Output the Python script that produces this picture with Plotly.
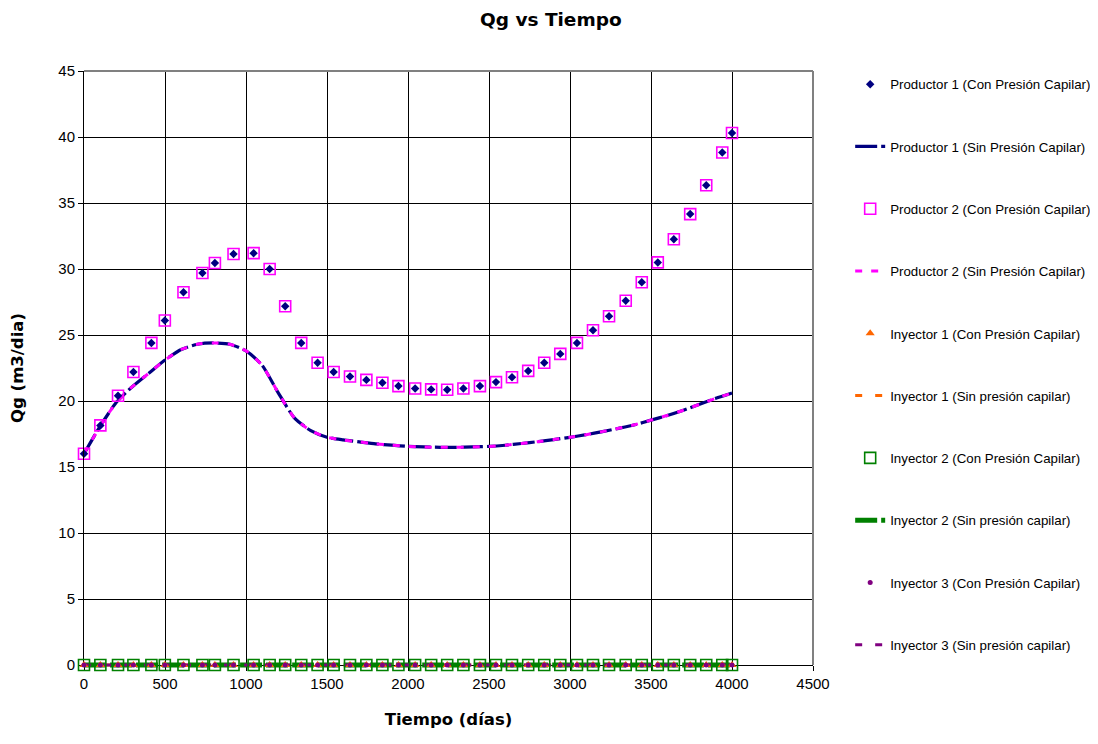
import plotly.graph_objects as go

# ---- data ----
t_points = [0, 101, 210, 305, 416, 499, 614, 731, 808, 923, 1047, 1146, 1242, 1341,
            1442, 1541, 1642, 1743, 1842, 1941, 2044, 2143, 2242, 2342, 2444, 2543,
            2642, 2742, 2841, 2940, 3043, 3142, 3241, 3344, 3443, 3542, 3641, 3742,
            3841, 3940, 4000]
prod1_con = [16.0, 18.15, 20.4, 22.2, 24.4, 26.1, 28.24, 29.7, 30.45, 31.14, 31.2,
             30.0, 27.18, 24.4, 22.9, 22.2, 21.86, 21.6, 21.38, 21.13, 20.95, 20.88,
             20.85, 20.95, 21.13, 21.43, 21.8, 22.28, 22.9, 23.57, 24.4, 25.36, 26.42,
             27.6, 29.0, 30.5, 32.25, 34.16, 36.35, 38.83, 40.3]
prod2_con = [16.0, 18.15, 20.4, 22.2, 24.4, 26.1, 28.24, 29.7, 30.45, 31.14, 31.2,
             30.0, 27.18, 24.4, 22.9, 22.2, 21.86, 21.6, 21.38, 21.13, 20.95, 20.88,
             20.85, 20.95, 21.13, 21.43, 21.8, 22.28, 22.9, 23.57, 24.4, 25.36, 26.42,
             27.6, 29.0, 30.5, 32.25, 34.16, 36.35, 38.83, 40.3]
iny1_con = [0.0] * len(t_points)
iny2_con = [0.0] * len(t_points)
iny3_con = [0.0] * len(t_points)

t_line = [0, 100, 200, 300, 400, 500, 600, 700, 800, 900, 1000, 1100, 1200, 1300,
          1400, 1500, 1600, 1700, 1800, 1900, 2000, 2100, 2200, 2300, 2400, 2500,
          2600, 2700, 2800, 2900, 3000, 3100, 3200, 3300, 3400, 3500, 3600, 3700,
          3800, 3900, 4000]
prod1_sin = [16.0, 18.1, 19.9, 21.1, 22.1, 23.1, 23.9, 24.3, 24.4, 24.3, 23.8, 22.7,
             20.6, 18.7, 17.75, 17.25, 17.05, 16.9, 16.75, 16.65, 16.56, 16.52, 16.49,
             16.49, 16.52, 16.56, 16.65, 16.78, 16.92, 17.08, 17.25, 17.45, 17.68,
             17.93, 18.2, 18.55, 18.9, 19.3, 19.75, 20.2, 20.6]
prod2_sin = list(prod1_sin)
iny1_sin = [0.0] * len(t_line)
iny2_sin = [0.0] * len(t_line)
iny3_sin = [0.0] * len(t_line)

x_ticks = [0, 500, 1000, 1500, 2000, 2500, 3000, 3500, 4000, 4500]
y_ticks = [0, 5, 10, 15, 20, 25, 30, 35, 40, 45]

NAVY = "#000080"
MAGENTA = "#FF00FF"
ORANGE = "#FF6600"
GREEN = "#008000"
PURPLE = "#800080"

X_MAX, Y_MAX = 4500, 45
D = 0.01                        # small extra domain below the main plot so the 0-lines are not clipped
Y2_MIN = -Y_MAX * D / (1 - D)   # keeps value 0 on the same pixel in both subplots

fig = go.Figure()

def add_line(name, x, y, color, width, dash, rank, axes=("x", "y")):
    fig.add_trace(go.Scatter(x=x, y=y, mode="lines", name=name, legendgroup=name,
                             legendrank=rank, cliponaxis=False, xaxis=axes[0], yaxis=axes[1],
                             line=dict(color=color, width=width, dash=dash,
                                       shape="spline", smoothing=0.6)))

def add_markers(name, x, y, symbol, color, size, rank, lw=0, lc=None, axes=("x", "y")):
    fig.add_trace(go.Scatter(x=x, y=y, mode="markers", name=name, legendgroup=name,
                             legendrank=rank, cliponaxis=False, xaxis=axes[0], yaxis=axes[1],
                             marker=dict(symbol=symbol, color=color, size=size,
                                         line=dict(width=lw, color=lc or color))))

Z = ("x2", "y2")
add_line("Productor 1 (Sin Presión Capilar)", t_line, prod1_sin, NAVY, 3.2, "22px,4px", 2)
add_line("Productor 2 (Sin Presión Capilar)", t_line, prod2_sin, MAGENTA, 3, "7px,9px", 4)
add_markers("Productor 1 (Con Presión Capilar)", t_points, prod1_con, "diamond", NAVY, 6.5, 1)
add_markers("Productor 2 (Con Presión Capilar)", t_points, prod2_con, "square-open", MAGENTA, 11, 3, lw=1.6)

add_line("Inyector 1 (Sin presión capilar)", t_line, iny1_sin, ORANGE, 3, "7px,13px", 6, axes=Z)
add_line("Inyector 2 (Sin presión capilar)", t_line, iny2_sin, GREEN, 5, "22px,4px", 8, axes=Z)
add_line("Inyector 3 (Sin presión capilar)", t_line, iny3_sin, PURPLE, 3, "7px,13px", 10, axes=Z)
add_markers("Inyector 1 (Con Presión Capilar)", t_points, iny1_con, "triangle-up", ORANGE, 8, 5, axes=Z)
add_markers("Inyector 2 (Con Presión Capilar)", t_points, iny2_con, "square-open", GREEN, 11, 7, lw=1.6, axes=Z)
add_markers("Inyector 3 (Con Presión Capilar)", t_points, iny3_con, "circle", PURPLE, 5, 9, axes=Z)

fig.update_layout(
    width=1090, height=736,
    margin=dict(l=76, r=285, t=63, b=73, autoexpand=False),
    paper_bgcolor="white", plot_bgcolor="rgba(0,0,0,0)",
    font=dict(family="Liberation Sans, Arial, sans-serif", color="black"),
    title=dict(text="<b>Qg vs Tiempo</b>", x=0.498, xanchor="center", xref="container",
               y=0.984, yanchor="middle", yref="container",
               font=dict(family="DejaVu Sans, Verdana, sans-serif", size=18.5, color="black")),
    showlegend=True,
    legend=dict(x=1.051, xanchor="left", y=1.0033, yanchor="top",
                font=dict(size=13.3, family="Liberation Sans, Arial, sans-serif"),
                tracegroupgap=42, itemwidth=30, bgcolor="rgba(0,0,0,0)",
                traceorder="grouped", maxheight=720),
    xaxis=dict(range=[0, X_MAX], tickvals=x_ticks, ticktext=[str(v) for v in x_ticks],
               showgrid=True, gridcolor="black", gridwidth=1, automargin=False,
               showline=True, linecolor="black", linewidth=1,
               ticks="outside", ticklen=5, tickcolor="black",
               tickfont=dict(size=15), zeroline=False, anchor="y",
               title=dict(text="<b>Tiempo (días)</b>", standoff=22,
                          font=dict(family="DejaVu Sans, Verdana, sans-serif", size=16.5))),
    yaxis=dict(range=[0, Y_MAX], domain=[D, 1], tickvals=y_ticks,
               ticktext=[str(v) for v in y_ticks],
               showgrid=True, gridcolor="black", gridwidth=1, automargin=False,
               showline=True, linecolor="black", linewidth=1,
               ticks="outside", ticklen=5, tickcolor="black",
               tickfont=dict(size=15), zeroline=False, anchor="x",
               title=dict(text="<b>Qg (m3/dia)</b>", standoff=31,
                          font=dict(family="DejaVu Sans, Verdana, sans-serif", size=16.5))),
    xaxis2=dict(range=[0, X_MAX], domain=[0, 1], anchor="y2", visible=False,
                showgrid=False, zeroline=False),
    yaxis2=dict(range=[Y2_MIN, Y_MAX], domain=[0, 1], anchor="x2", visible=False,
                showgrid=False, zeroline=False),
)

# gray border on top and right of plot area
fig.add_shape(type="line", xref="paper", yref="paper", x0=0, x1=1, y0=1, y1=1,
              line=dict(color="#808080", width=2))
fig.add_shape(type="line", xref="paper", yref="paper", x0=1, x1=1, y0=D, y1=1,
              line=dict(color="#808080", width=2))

fig.write_html("out.html")
